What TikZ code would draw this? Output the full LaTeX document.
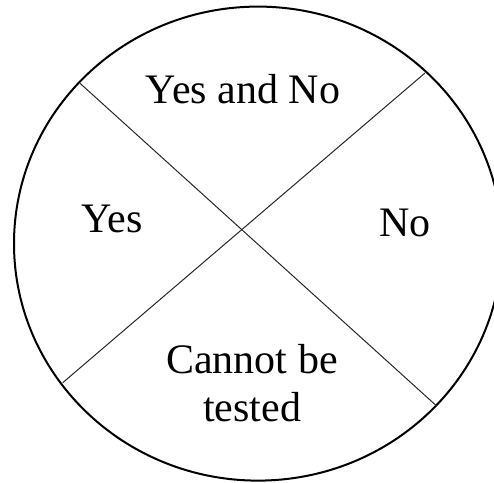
\documentclass[tikz,border=0pt]{standalone}
\usepackage{fontspec}
\setmainfont{Liberation Serif}
\begin{document}
\begin{tikzpicture}[x=1pt,y=-1pt,
  lbl/.style={font=\fontsize{42}{48.7}\selectfont, inner sep=0pt, anchor=base, align=center},
  rim/.style={draw=black, line width=2pt},
  divider/.style={draw=black!85, line width=1pt}]
\useasboundingbox (0,0) rectangle (494,482);
\clip (0,0) rectangle (494,482);
\draw[rim] (258,243.6) ellipse [x radius=244, y radius=237];
\coordinate (a1) at (80,83.3);
\coordinate (a2) at (436.7,406);
\coordinate (b1) at (425,73);
\coordinate (b2) at (62.7,382.7);
\draw[divider] (a1) -- (a2);
\draw[divider] (b1) -- (b2);
\node[lbl] (top) at (243,103.3) {Yes and No};
\node[lbl] (left) at (112,232) {Yes};
\node[lbl] (right) at (405,236.7) {No};
\node[lbl] (bottom) at (252,421.7) {Cannot be\\tested};
\end{tikzpicture}
\end{document}
